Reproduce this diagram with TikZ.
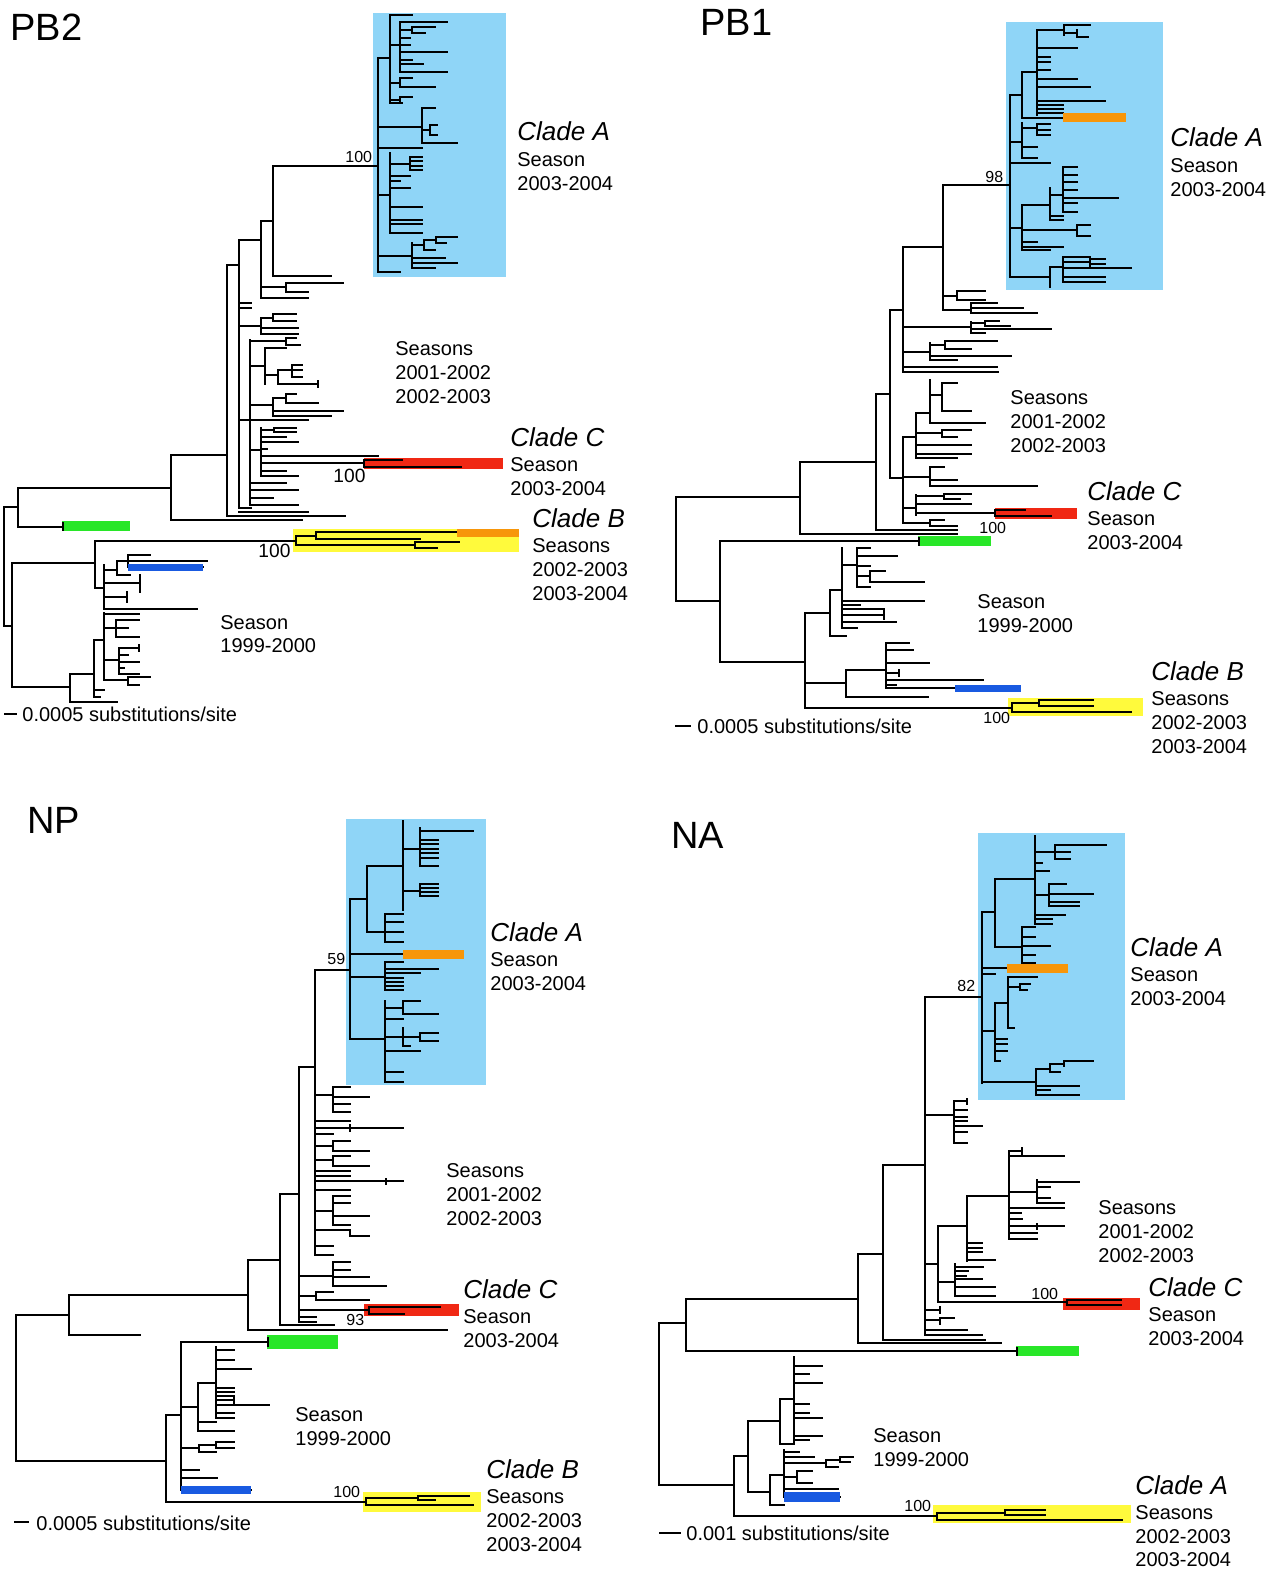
\documentclass[tikz,border=0pt]{standalone}
\usepackage{fontspec}
\setmainfont{Liberation Sans}
\usetikzlibrary{positioning}

\definecolor{cladesky}{RGB}{143,213,247}
\definecolor{barred}{RGB}{240,40,20}
\definecolor{baryellow}{RGB}{255,250,60}
\definecolor{barorange}{RGB}{247,150,10}
\definecolor{bargreen}{RGB}{40,230,40}
\definecolor{barblue}{RGB}{25,90,225}

% tree segments: verticals x/ytop/ybottom, horizontals xleft/xright/y
\newcommand{\treev}[1]{\foreach \xx/\ya/\yb in {#1}{\draw[branch] (\xx,\ya) -- (\xx,\yb);}}
\newcommand{\treeh}[1]{\foreach \xa/\xb/\yy in {#1}{\draw[branch] (\xa,\yy) -- (\xb,\yy);}}

\begin{document}
\begin{tikzpicture}[
    x=0.5pt, y=-0.5pt,
    branch/.style={line width=0.8pt, line cap=rect, black},
    every node/.style={inner sep=0pt, anchor=base west},
    paneltitle/.style={font=\fontsize{19}{22}\selectfont},
    cladename/.style={font=\fontsize{13}{15}\selectfont\itshape},
    season/.style={font=\fontsize{10}{12}\selectfont},
    boot/.style={font=\fontsize{8}{9.6}\selectfont},
    bootbig/.style={font=\fontsize{9.6}{11}\selectfont},
]
\useasboundingbox (0,0) rectangle (1274,1569);

% --- Background boxes ---
\fill[cladesky] (373,13) rectangle (506,277);
\fill[cladesky] (1006,22) rectangle (1163,290);
\fill[cladesky] (346,819) rectangle (486,1085);
\fill[cladesky] (978,833) rectangle (1125,1100);
\fill[barred] (364,458) rectangle (503,469);
\fill[barred] (995,508) rectangle (1077,519);
\fill[barred] (364,1304) rectangle (459,1316);
\fill[barred] (1063,1298) rectangle (1140,1310);
\fill[baryellow] (293,529) rectangle (519,552);
\fill[baryellow] (1008,698) rectangle (1143,716);
\fill[baryellow] (363,1492) rectangle (481,1512);
\fill[baryellow] (933,1505) rectangle (1131,1523);

% --- PB2 tree ---
\treev{4/507/626, 18/488/527, 171/455/520, 227/265/516, 239/240/508, 261/221/298,
  273/166/276, 286/283/292, 261/318/334, 273/314/321, 250/340/505, 286/338/345,
  265/348/384, 278/370/384, 292/365/377, 318/381/387, 273/398/416, 286/394/403,
  261/428/476, 274/428/432, 364/460/467,
  378/58/272, 390/15/103, 400/22/72, 412/27/33, 400/78/87, 400/97/103, 422/108/143,
  430/125/135, 390/153/233, 410/157/170, 412/243/268, 424/240/250, 436/237/243,
  12/563/687, 95/541/588, 104/565/609, 117/561/575, 128/555/567, 140/575/592,
  127/592/602, 296/536/545, 316/532/539, 415/542/548, 70/674/702, 94/640/697,
  104/613/680, 116/620/637, 119/648/674, 128/677/685, 139/645/651}
\treeh{4/18/507, 18/62/527, 18/171/488, 171/227/455, 171/302/520, 227/239/265,
  227/345/516, 239/261/240, 261/273/221, 273/378/166, 273/331/276, 261/286/287,
  286/343/283, 286/308/292, 261/308/298, 239/251/303, 239/251/308, 239/261/326,
  261/273/318, 273/296/314, 273/296/321, 261/298/328, 261/298/334, 239/250/420,
  250/286/341, 286/296/338, 286/300/345, 250/265/366, 265/286/348, 265/278/375,
  278/292/370, 292/302/365, 292/302/370, 292/302/377, 278/318/384, 250/273/405,
  273/286/398, 286/296/394, 286/318/403, 273/343/411, 273/331/416, 250/308/420,
  250/261/450, 261/274/430, 274/296/428, 274/296/432, 261/286/437, 261/298/442,
  261/267/449, 261/378/456, 261/364/463, 364/402/460, 364/461/467, 261/286/471,
  261/298/476, 250/286/483, 250/298/490, 250/273/498, 250/298/505, 239/251/508,
  239/308/512,
  378/390/58, 390/412/15, 390/400/45, 400/447/22, 400/412/30, 412/435/27, 412/425/33,
  400/410/38, 400/410/45, 400/447/52, 400/412/60, 400/423/64, 400/447/72, 390/400/83,
  400/412/78, 400/435/87, 390/400/100, 400/412/97, 390/402/103, 378/422/127,
  422/435/108, 422/430/130, 430/437/125, 430/437/135, 422/457/143, 378/422/148,
  378/390/195, 390/410/164, 410/422/157, 410/422/161, 410/422/166, 410/422/170,
  390/410/176, 390/400/181, 390/410/188, 390/422/207, 390/422/220, 390/422/224,
  390/422/233, 378/412/256, 412/424/245, 424/436/240, 436/457/237, 436/446/243,
  424/435/250, 412/445/258, 412/457/263, 412/435/268, 378/400/272,
  4/12/626, 12/95/563, 12/70/687, 95/293/541, 95/104/588, 104/117/570, 117/128/561,
  128/150/555, 128/207/561, 128/203/567, 117/130/575, 104/140/583, 104/127/597,
  104/197/609, 293/296/541, 296/316/536, 316/457/532, 316/420/539, 296/415/545,
  415/459/542, 415/437/548, 70/94/674, 70/117/702, 94/104/640, 94/104/690,
  94/100/697, 104/139/614, 104/116/628, 116/139/620, 116/128/628, 116/139/637,
  104/119/660, 119/139/648, 119/128/655, 119/139/662, 119/124/668, 119/139/674,
  104/128/680, 128/150/677, 128/139/685,
  5/16/714}

% --- PB1 tree ---
\treev{676/497/601, 800/462/534, 876/394/530, 890/310/478, 903/247/372, 943/185/310,
  957/291/300, 971/303/313, 971/322/333, 985/321/326, 930/343/360, 945/341/349,
  903/437/523, 916/413/458, 930/380/423, 942/383/411, 942/430/437, 930/467/486,
  916/495/515, 944/494/499, 995/510/516, 930/520/526,
  720/541/662, 805/613/708, 830/590/636, 842/548/628, 857/548/587, 870/571/582,
  884/611/619, 846/670/697, 886/643/688, 899/670/676, 1012/703/712, 1039/700/706,
  1010/95/277, 1022/72/118, 1037/30/115, 1064/25/35, 1077/30/37, 1022/123/158,
  1037/124/135, 1022/205/250, 1050/188/220, 1063/167/212, 1077/225/236, 1050/267/287,
  1063/257/282, 1090/259/266}
\treeh{676/800/497, 676/720/601, 800/876/462, 800/957/534, 876/890/394, 876/957/530,
  890/903/310, 890/903/478, 903/943/247, 943/1010/185, 943/957/296, 957/985/291,
  957/985/300, 943/971/310, 971/997/303, 971/1023/308, 971/1037/313, 903/971/327,
  971/985/323, 985/999/321, 985/1010/326, 971/1051/329, 971/985/333, 903/930/352,
  930/945/345, 945/997/341, 945/971/349, 930/1011/356, 930/957/360, 903/997/367,
  903/998/372,
  903/916/437, 916/930/413, 930/942/395, 942/957/383, 942/971/411, 930/985/423,
  916/942/433, 942/971/430, 942/957/437, 916/971/445, 916/971/454, 916/957/458,
  903/930/477, 930/944/467, 930/957/480, 930/1037/486, 903/916/508, 916/944/496,
  944/971/494, 944/960/499, 916/971/504, 916/995/513, 995/1025/510, 995/1051/516,
  903/930/523, 930/944/520, 930/957/526,
  720/918/541, 720/805/662, 805/830/613, 805/846/683, 805/1010/708, 830/842/590,
  830/846/636, 842/857/565, 857/870/548, 857/897/556, 857/870/566, 857/870/576,
  870/885/571, 870/924/582, 857/870/587, 842/924/601, 842/860/605, 842/884/609,
  842/884/615, 842/896/622, 842/857/628,
  846/886/670, 886/909/643, 886/913/650, 886/929/663, 886/899/673, 886/983/680,
  886/896/685, 886/955/688, 846/928/697,
  1010/1012/708, 1012/1039/703, 1039/1093/700, 1039/1093/706, 1012/1131/712,
  1010/1022/95, 1022/1037/72, 1037/1064/30, 1064/1090/25, 1064/1077/33, 1077/1088/37,
  1037/1077/48, 1037/1050/57, 1037/1050/62, 1037/1050/70, 1037/1077/79, 1037/1090/87,
  1037/1105/101, 1037/1063/105, 1037/1063/109, 1037/1063/113, 1022/1063/118,
  1010/1022/142, 1022/1037/128, 1037/1050/124, 1037/1050/130, 1037/1050/135,
  1022/1037/147, 1022/1037/158, 1010/1050/163,
  1010/1022/228, 1022/1050/205, 1050/1063/195, 1063/1077/167, 1063/1077/175,
  1063/1077/182, 1063/1077/190, 1063/1118/198, 1063/1077/203, 1063/1077/212,
  1050/1063/216, 1050/1063/220, 1022/1077/230, 1077/1090/225, 1077/1090/236,
  1022/1037/242, 1022/1063/247, 1022/1050/250,
  1010/1050/277, 1050/1063/267, 1063/1090/257, 1063/1090/262, 1090/1105/259,
  1090/1105/264, 1063/1131/268, 1063/1105/277, 1063/1105/282,
  676/690/726}

% --- NP tree ---
\treev{16/1315/1461, 69/1295/1335, 248/1260/1330, 280/1194/1325, 299/1067/1322,
  333/1262/1286, 316/1292/1300, 369/1307/1314, 315/970/1255, 333/1087/1112,
  350/1125/1131, 333/1141/1151, 333/1156/1166, 386/1179/1184, 333/1196/1225,
  350/1230/1236,
  350/899/1039, 367/866/932, 403/821/910, 420/828/866, 420/884/896, 385/914/942,
  385/962/990, 385/1001/1082, 403/1001/1014, 403/1028/1046, 420/1033/1041,
  166/1415/1502, 181/1342/1490, 198/1383/1431, 216/1347/1418, 234/1397/1403,
  199/1445/1452, 216/1442/1448, 366/1498/1505, 418/1496/1500}
\treeh{16/69/1315, 16/166/1461, 69/248/1295, 69/140/1335, 248/280/1260, 248/447/1330,
  280/299/1194, 280/334/1325, 299/315/1067, 299/333/1276, 333/350/1262, 333/350/1270,
  333/369/1277, 333/386/1286, 299/316/1296, 316/333/1292, 316/369/1300, 299/369/1310,
  369/440/1307, 369/404/1314, 299/316/1317, 299/316/1322,
  315/350/970, 315/333/1095, 333/350/1087, 333/369/1097, 333/350/1104, 333/350/1112,
  315/350/1121, 315/403/1128, 315/333/1134, 315/333/1146, 333/350/1141, 333/369/1151,
  315/333/1160, 333/350/1156, 333/369/1166, 315/350/1171, 315/350/1176, 315/403/1181,
  315/350/1190, 315/333/1211, 333/350/1196, 333/350/1203, 333/369/1216, 333/350/1225,
  315/350/1230, 350/369/1236, 315/333/1246, 315/333/1255,
  350/367/899, 367/403/866, 403/420/849, 420/473/831, 420/438/840, 420/438/844,
  420/438/849, 420/438/853, 420/438/858, 420/438/866, 403/420/891, 420/438/884,
  420/438/888, 420/438/892, 420/438/896, 367/385/932, 385/403/914, 385/403/922,
  385/403/932, 385/403/942, 350/403/954, 350/385/977, 385/403/962, 385/438/969,
  385/420/973, 385/403/978, 385/403/982, 385/403/986, 385/403/990, 350/385/1039,
  385/403/1008, 403/438/1014, 403/420/1001, 385/403/1019, 385/403/1037, 403/420/1037,
  420/438/1033, 420/438/1041, 403/410/1046, 385/420/1051, 385/403/1072, 385/403/1082,
  166/181/1415, 166/363/1502, 181/267/1342, 181/198/1407, 198/216/1383, 216/234/1350,
  216/234/1360, 216/251/1369, 216/234/1388, 216/234/1392, 216/234/1396, 216/234/1400,
  216/269/1405, 216/234/1413, 216/234/1418, 198/216/1422, 198/234/1431, 181/199/1448,
  199/216/1445, 216/234/1442, 216/234/1448, 199/216/1452, 181/199/1470, 181/217/1478,
  181/251/1490, 363/366/1502, 366/418/1498, 418/469/1496, 418/435/1500, 366/473/1505,
  15/28/1522}

% --- NA tree ---
\treev{659/1323/1485, 686/1299/1351, 858/1254/1343, 883/1165/1340, 925/997/1335,
  954/1101/1143, 967/1099/1104, 938/1226/1302, 967/1196/1261, 1009/1151/1239,
  1022/1148/1154, 1037/1180/1203, 1037/1224/1229, 955/1264/1296, 1067/1300/1305,
  940/1307/1313, 940/1318/1324,
  982/912/1083, 995/879/947, 1035/836/924, 1055/845/859, 1049/884/906, 1022/927/963,
  995/1003/1061, 1008/977/1028, 1020/984/990, 1036/1069/1095, 1050/1064/1072,
  1064/1061/1066,
  734/1456/1516, 748/1421/1492, 780/1399/1444, 794/1357/1444, 770/1475/1505,
  784/1450/1497, 826/1460/1467, 840/1457/1462, 797/1471/1483, 937/1513/1520,
  1005/1510/1515}
\treeh{659/686/1323, 659/734/1485, 686/858/1299, 686/1017/1351, 858/883/1254,
  858/1001/1343, 883/925/1165, 883/985/1340, 925/982/997, 925/954/1115, 954/967/1101,
  954/967/1110, 954/967/1117, 954/967/1121, 954/982/1126, 954/967/1132, 954/967/1143,
  925/938/1264, 938/967/1226, 967/1009/1196, 1009/1022/1151, 1009/1064/1156,
  1009/1037/1192, 1037/1079/1182, 1037/1050/1187, 1037/1050/1198, 1037/1064/1203,
  1009/1064/1208, 1009/1021/1213, 1009/1022/1219, 1009/1064/1226, 1009/1037/1233,
  1009/1037/1239, 967/982/1243, 967/982/1248, 967/982/1252, 967/995/1260,
  938/955/1282, 955/983/1267, 955/968/1271, 955/966/1276, 955/982/1279, 955/995/1287,
  955/995/1296, 938/1063/1302, 1063/1067/1302, 1067/1121/1300, 1067/1121/1305,
  925/940/1310, 925/940/1320, 940/954/1318, 925/967/1330, 925/982/1335,
  982/995/912, 995/1035/879, 1035/1055/852, 1055/1106/845, 1055/1070/852,
  1055/1070/859, 1035/1042/863, 1035/1049/871, 1035/1049/895, 1049/1066/884,
  1049/1093/894, 1049/1079/902, 1049/1079/906, 1035/1065/915, 1035/1052/919,
  1035/1052/924, 995/1022/947, 1022/1035/927, 1022/1035/937, 1022/1050/946,
  1022/1035/955, 1022/1035/963, 982/1007/968, 982/995/974, 982/995/1031,
  995/1008/1003, 1008/1037/977, 1008/1020/987, 1020/1030/984, 1020/1027/990,
  1008/1014/1028, 995/1007/1039, 995/1007/1044, 995/1007/1051, 995/1000/1061,
  982/1036/1082, 1036/1050/1069, 1050/1064/1064, 1064/1093/1061, 1050/1060/1072,
  1036/1079/1086, 1036/1050/1090, 1036/1079/1095,
  734/748/1456, 734/933/1516, 748/780/1421, 748/770/1492, 780/794/1399, 780/794/1444,
  794/822/1366, 794/809/1374, 794/822/1383, 794/809/1404, 794/809/1413, 794/822/1418,
  794/822/1436, 794/809/1440, 770/784/1475, 770/784/1505, 784/799/1452, 784/814/1457,
  784/826/1463, 826/840/1460, 840/853/1457, 840/850/1462, 826/838/1467, 784/797/1477,
  797/812/1471, 797/812/1483, 784/838/1489, 784/840/1497, 933/937/1516, 937/1005/1513,
  1005/1045/1510, 1005/1045/1515, 937/1122/1520,
  660/680/1533}

% --- Highlight bars drawn over branches ---
\fill[barorange] (457,529) rectangle (519,537);
\fill[barorange] (1063,113) rectangle (1126,122);
\fill[barorange] (403,950) rectangle (464,959);
\fill[barorange] (1007,964) rectangle (1068,973);
\fill[bargreen] (62,521) rectangle (130,531);
\fill[bargreen] (918,536) rectangle (991,546);
\fill[bargreen] (267,1335) rectangle (338,1349);
\fill[bargreen] (1016,1346) rectangle (1079,1356);
\fill[barblue] (128,564) rectangle (203,571);
\fill[barblue] (955,685) rectangle (1021,692);
\fill[barblue] (181,1486) rectangle (251,1494);
\fill[barblue] (784,1492) rectangle (840,1502);
\treev{63/523/530, 919/538/545, 268/1338/1346, 1017/1348/1355}

% --- PB2 labels ---
\node (pb2-title) [paneltitle] at (10,40) {PB2};
\node (pb2-bootA) [boot] at (345,162) {100};
\node (pb2-bootC) [bootbig] at (333,482) {100};
\node (pb2-bootB) [bootbig] at (258,557) {100};
\node (pb2-cladeA) [cladename] at (517,140) {Clade A};
\node (pb2-cladeA-s) [season] at (517,166) {Season};
\node (pb2-cladeA-y) [season] at (517,190) {2003-2004};
\node (pb2-mid-s) [season] at (395,355) {Seasons};
\node (pb2-mid-y1) [season] at (395,379) {2001-2002};
\node (pb2-mid-y2) [season] at (395,403) {2002-2003};
\node (pb2-cladeC) [cladename] at (510,446) {Clade C};
\node (pb2-cladeC-s) [season] at (510,471) {Season};
\node (pb2-cladeC-y) [season] at (510,495) {2003-2004};
\node (pb2-cladeB) [cladename] at (532,527) {Clade B};
\node (pb2-cladeB-s) [season] at (532,552) {Seasons};
\node (pb2-cladeB-y1) [season] at (532,576) {2002-2003};
\node (pb2-cladeB-y2) [season] at (532,600) {2003-2004};
\node (pb2-old-s) [season] at (220,629) {Season};
\node (pb2-old-y) [season] at (220,652) {1999-2000};
\node (pb2-scale) [season] at (22,721) {0.0005 substitutions/site};

% --- PB1 labels ---
\node (pb1-title) [paneltitle] at (700,35) {PB1};
\node (pb1-bootA) [boot] at (985,182) {98};
\node (pb1-bootC) [boot] at (979,533) {100};
\node (pb1-bootB) [boot] at (983,723) {100};
\node (pb1-cladeA) [cladename] at (1170,146) {Clade A};
\node (pb1-cladeA-s) [season] at (1170,172) {Season};
\node (pb1-cladeA-y) [season] at (1170,196) {2003-2004};
\node (pb1-mid-s) [season] at (1010,404) {Seasons};
\node (pb1-mid-y1) [season] at (1010,428) {2001-2002};
\node (pb1-mid-y2) [season] at (1010,452) {2002-2003};
\node (pb1-cladeC) [cladename] at (1087,500) {Clade C};
\node (pb1-cladeC-s) [season] at (1087,525) {Season};
\node (pb1-cladeC-y) [season] at (1087,549) {2003-2004};
\node (pb1-old-s) [season] at (977,608) {Season};
\node (pb1-old-y) [season] at (977,632) {1999-2000};
\node (pb1-cladeB) [cladename] at (1151,680) {Clade B};
\node (pb1-cladeB-s) [season] at (1151,705) {Seasons};
\node (pb1-cladeB-y1) [season] at (1151,729) {2002-2003};
\node (pb1-cladeB-y2) [season] at (1151,753) {2003-2004};
\node (pb1-scale) [season] at (697,733) {0.0005 substitutions/site};

% --- NP labels ---
\node (np-title) [paneltitle] at (27,833) {NP};
\node (np-bootA) [boot] at (327,964) {59};
\node (np-bootC) [boot] at (346,1325) {93};
\node (np-bootB) [boot] at (333,1497) {100};
\node (np-cladeA) [cladename] at (490,941) {Clade A};
\node (np-cladeA-s) [season] at (490,966) {Season};
\node (np-cladeA-y) [season] at (490,990) {2003-2004};
\node (np-mid-s) [season] at (446,1177) {Seasons};
\node (np-mid-y1) [season] at (446,1201) {2001-2002};
\node (np-mid-y2) [season] at (446,1225) {2002-2003};
\node (np-cladeC) [cladename] at (463,1298) {Clade C};
\node (np-cladeC-s) [season] at (463,1323) {Season};
\node (np-cladeC-y) [season] at (463,1347) {2003-2004};
\node (np-old-s) [season] at (295,1421) {Season};
\node (np-old-y) [season] at (295,1445) {1999-2000};
\node (np-cladeB) [cladename] at (486,1478) {Clade B};
\node (np-cladeB-s) [season] at (486,1503) {Seasons};
\node (np-cladeB-y1) [season] at (486,1527) {2002-2003};
\node (np-cladeB-y2) [season] at (486,1551) {2003-2004};
\node (np-scale) [season] at (36,1530) {0.0005 substitutions/site};

% --- NA labels ---
\node (na-title) [paneltitle] at (671,848) {NA};
\node (na-bootA) [boot] at (957,991) {82};
\node (na-bootC) [boot] at (1031,1299) {100};
\node (na-bootY) [boot] at (904,1511) {100};
\node (na-cladeA) [cladename] at (1130,956) {Clade A};
\node (na-cladeA-s) [season] at (1130,981) {Season};
\node (na-cladeA-y) [season] at (1130,1005) {2003-2004};
\node (na-mid-s) [season] at (1098,1214) {Seasons};
\node (na-mid-y1) [season] at (1098,1238) {2001-2002};
\node (na-mid-y2) [season] at (1098,1262) {2002-2003};
\node (na-cladeC) [cladename] at (1148,1296) {Clade C};
\node (na-cladeC-s) [season] at (1148,1321) {Season};
\node (na-cladeC-y) [season] at (1148,1345) {2003-2004};
\node (na-old-s) [season] at (873,1442) {Season};
\node (na-old-y) [season] at (873,1466) {1999-2000};
\node (na-cladeY) [cladename] at (1135,1494) {Clade A};
\node (na-cladeY-s) [season] at (1135,1519) {Seasons};
\node (na-cladeY-y1) [season] at (1135,1543) {2002-2003};
\node (na-cladeY-y2) [season] at (1135,1566) {2003-2004};
\node (na-scale) [season] at (686,1540) {0.001 substitutions/site};

\end{tikzpicture}
\end{document}
